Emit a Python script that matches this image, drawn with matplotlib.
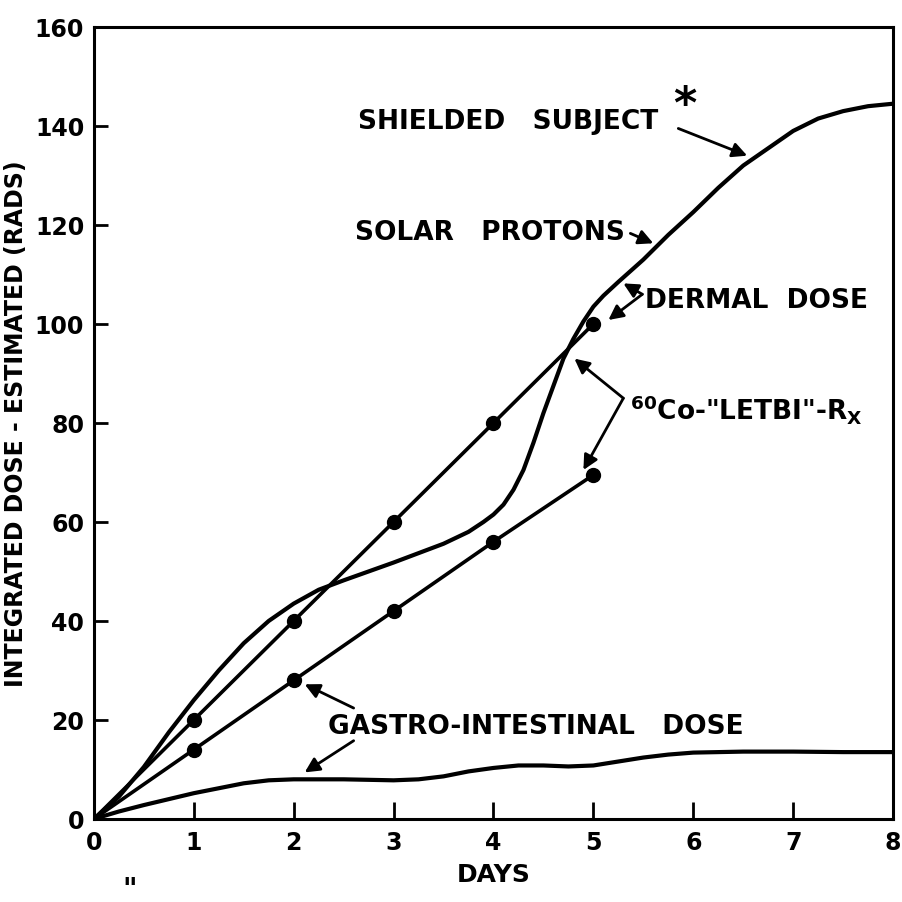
# Integrated dose estimate vs days: solar protons (shielded subject), 60Co LETBI lines, GI dose
import matplotlib.pyplot as plt

plt.rcParams['font.family'] = ['DejaVu Sans']
plt.rcParams['mathtext.default'] = 'regular'

# solar protons / shielded subject curve
solar_days = [0, 0.25, 0.5, 0.75, 1.0, 1.25, 1.5, 1.75, 2.0, 2.25, 2.5, 2.75, 3.0, 3.25,
              3.5, 3.75, 3.9, 4.0, 4.1, 4.2, 4.3, 4.4, 4.5, 4.6, 4.7, 4.8, 4.9, 5.0,
              5.1, 5.25, 5.5, 5.75, 6.0, 6.25, 6.5, 6.75, 7.0, 7.25, 7.5, 7.75, 8.0]
solar_dose = [0, 4.5, 10.5, 17.5, 24, 30, 35.5, 40, 43.5, 46.3, 48.2, 50, 51.8, 53.7,
              55.6, 58, 60, 61.5, 63.5, 66.5, 70.5, 76, 82, 87.5, 93, 97, 100.5, 103.5,
              105.7, 108.5, 113, 118, 122.6, 127.5, 132, 135.5, 139, 141.5, 143, 144, 144.5]

# gastro-intestinal dose curve
gi_days = [0, 0.25, 0.5, 0.75, 1.0, 1.25, 1.5, 1.75, 2.0, 2.5, 3.0, 3.25, 3.5, 3.75,
           4.0, 4.25, 4.5, 4.75, 5.0, 5.25, 5.5, 5.75, 6.0, 6.5, 7.0, 7.5, 8.0]
gi_dose = [0, 1.5, 2.8, 4, 5.2, 6.2, 7.2, 7.8, 8, 8, 7.8, 8, 8.6, 9.6,
           10.3, 10.8, 10.8, 10.6, 10.8, 11.6, 12.4, 13, 13.4, 13.6, 13.6, 13.5, 13.5]

# 60Co "LETBI" measured points (two lines)
co_days = [0, 1, 2, 3, 4, 5]
dermal_dose = [0, 20, 40, 60, 80, 100]
gi_co_dose = [0, 14, 28, 42, 56, 69.5]

x_ticks = [0, 1, 2, 3, 4, 5, 6, 7, 8]
y_ticks = [0, 20, 40, 60, 80, 100, 120, 140, 160]

fig = plt.figure(figsize=(9.03, 9.03), dpi=100)
ax = fig.add_axes([0.104, 0.092, 0.885, 0.877])

ax.plot(solar_days, solar_dose, color='black', lw=3)
ax.plot(gi_days, gi_dose, color='black', lw=3)
ax.plot(co_days, dermal_dose, color='black', lw=2.6, marker='o', markersize=10,
        markevery=slice(1, None))
ax.plot(co_days, gi_co_dose, color='black', lw=2.6, marker='o', markersize=10,
        markevery=slice(1, None))

ax.set_xlim(0, 8)
ax.set_ylim(0, 160)
ax.set_xticks(x_ticks)
ax.set_yticks(y_ticks)
ax.tick_params(axis='x', direction='in', length=12, width=2, labelsize=17, pad=8)
ax.tick_params(axis='y', direction='in', length=10, width=2, labelsize=17, pad=7)
for lab in ax.get_xticklabels() + ax.get_yticklabels():
    lab.set_fontweight('bold')
for sp in ax.spines.values():
    sp.set_linewidth(2.2)

ax.set_xlabel('DAYS', fontsize=18, fontweight='bold', labelpad=6)
ax.set_ylabel('INTEGRATED DOSE - ESTIMATED (RADS)', fontsize=17, fontweight='bold',
              labelpad=5)

arrow = dict(arrowstyle='-|>', lw=2, color='black', mutation_scale=22,
             shrinkA=0, shrinkB=0)
txt = dict(fontsize=19, fontweight='bold', va='center', ha='left')

# shielded subject / solar protons
ax.text(2.64, 141, 'SHIELDED   SUBJECT', **txt)
ax.text(5.8, 144.3, '*', fontsize=32, fontweight='bold', va='center', ha='left')
ax.annotate('', xy=(6.54, 134), xytext=(5.85, 139.5), arrowprops=arrow)
ax.text(2.61, 118.5, 'SOLAR   PROTONS', **txt)
ax.annotate('', xy=(5.6, 116.3), xytext=(5.37, 118.3), arrowprops=arrow)

# dermal dose bracket
ax.text(5.52, 104.8, 'DERMAL  DOSE', **txt)
ax.annotate('', xy=(5.3, 108.2), xytext=(5.49, 106), arrowprops=arrow)
ax.annotate('', xy=(5.15, 100.8), xytext=(5.49, 106), arrowprops=arrow)

# 60Co LETBI bracket
ax.text(5.37, 83, r'$^{60}$Co-"LETBI"-R$_X$', **txt)
ax.annotate('', xy=(4.81, 93), xytext=(5.3, 85), arrowprops=arrow)
ax.annotate('', xy=(4.9, 70.5), xytext=(5.3, 85), arrowprops=arrow)

# gastro-intestinal dose
ax.text(2.34, 18.7, 'GASTRO-INTESTINAL   DOSE', **txt)
ax.annotate('', xy=(2.11, 27.2), xytext=(2.6, 22.4), arrowprops=arrow)
ax.annotate('', xy=(2.11, 9.4), xytext=(2.6, 15.8), arrowprops=arrow)

# cut-off footnote mark at the bottom edge
fig.text(0.135, 0.005, '"', fontsize=20, fontweight='bold')

fig.savefig('out.png', dpi=100)
